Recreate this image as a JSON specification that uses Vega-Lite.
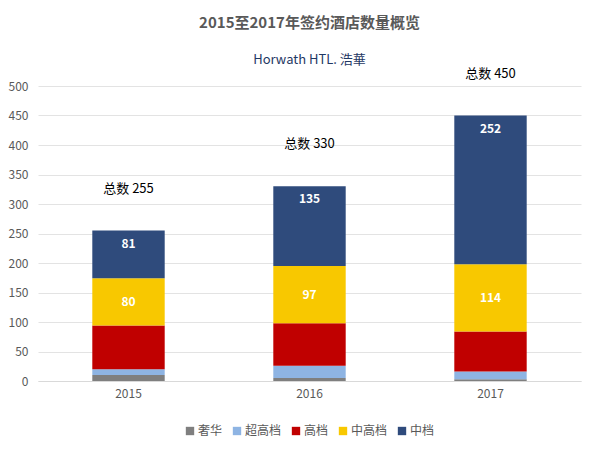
{
  "$schema": "https://vega.github.io/schema/vega-lite/v6.json",
  "width": 600,
  "height": 450,
  "autosize": {"type": "fit", "contains": "padding"},
  "padding": {"top": 28, "left": 8, "right": 19, "bottom": 13},
  "background": "white",
  "title": {
    "text": "2015至2017年签约酒店数量概览",
    "subtitle": "Horwath HTL. 浩華",
    "font": "Noto Sans CJK SC",
    "fontSize": 15,
    "fontWeight": "bold",
    "color": "#595959",
    "subtitleFont": "Noto Sans CJK SC",
    "subtitleFontSize": 13,
    "subtitleColor": "#1f3864",
    "subtitlePadding": 23,
    "offset": 1,
    "anchor": "middle"
  },
  "config": {
    "view": {"stroke": null},
    "font": "Noto Sans CJK SC",
    "axis": {"labelFont": "Noto Sans CJK SC", "labelColor": "#595959"},
    "axisY": {
      "labelFontSize": 12,
      "labelPadding": 10,
      "labelOverlap": false,
      "ticks": false,
      "domain": false,
      "gridColor": "#e3e3e3",
      "title": null
    },
    "legend": {
      "labelFont": "Noto Sans CJK SC",
      "labelColor": "#595959",
      "layout": {"bottom": {"anchor": "middle"}}
    }
  },
  "datasets": {
    "grades": [
      {"year": "2015", "grade": "奢华", "tier": 1, "count": 10},
      {"year": "2015", "grade": "超高档", "tier": 2, "count": 10},
      {"year": "2015", "grade": "高档", "tier": 3, "count": 74},
      {"year": "2015", "grade": "中高档", "tier": 4, "count": 80},
      {"year": "2015", "grade": "中档", "tier": 5, "count": 81},
      {"year": "2016", "grade": "奢华", "tier": 1, "count": 5},
      {"year": "2016", "grade": "超高档", "tier": 2, "count": 21},
      {"year": "2016", "grade": "高档", "tier": 3, "count": 72},
      {"year": "2016", "grade": "中高档", "tier": 4, "count": 97},
      {"year": "2016", "grade": "中档", "tier": 5, "count": 135},
      {"year": "2017", "grade": "奢华", "tier": 1, "count": 3},
      {"year": "2017", "grade": "超高档", "tier": 2, "count": 13},
      {"year": "2017", "grade": "高档", "tier": 3, "count": 68},
      {"year": "2017", "grade": "中高档", "tier": 4, "count": 114},
      {"year": "2017", "grade": "中档", "tier": 5, "count": 252}
    ],
    "totals": [
      {"year": "2015", "total": 255, "label": "总数 255"},
      {"year": "2016", "total": 330, "label": "总数 330"},
      {"year": "2017", "total": 450, "label": "总数 450"}
    ]
  },
  "data": {"name": "grades"},
  "encoding": {
    "x": {
      "field": "year",
      "type": "nominal",
      "title": null,
      "scale": {"paddingInner": 0.6, "paddingOuter": 0.3},
      "axis": {
        "labelAngle": 0,
        "labelFontSize": 12,
        "labelPadding": 7,
        "ticks": false,
        "domainColor": "#d9d9d9",
        "domainWidth": 1
      }
    }
  },
  "layer": [
    {
      "mark": {"type": "bar"},
      "encoding": {
        "y": {
          "field": "count",
          "type": "quantitative",
          "title": null,
          "scale": {"domain": [0, 500]},
          "axis": {"values": [0, 50, 100, 150, 200, 250, 300, 350, 400, 450, 500]}
        },
        "order": {"field": "tier", "type": "quantitative", "sort": "ascending"},
        "color": {
          "field": "grade",
          "type": "nominal",
          "scale": {
            "domain": ["奢华", "超高档", "高档", "中高档", "中档"],
            "range": ["#7f7f7f", "#8eb4e3", "#c00000", "#f8c800", "#2f4b7c"]
          },
          "legend": {
            "title": null,
            "orient": "bottom",
            "direction": "horizontal",
            "symbolType": "square",
            "symbolSize": 70,
            "symbolStrokeWidth": 0,
            "labelFontSize": 12,
            "columnPadding": 8,
            "labelOffset": 2,
            "offset": 26
          }
        }
      }
    },
    {
      "transform": [
        {"stack": "count", "groupby": ["year"], "sort": [{"field": "tier", "order": "ascending"}], "as": ["v0", "v1"]},
        {"filter": "datum.grade === '中高档'"},
        {"fold": ["v0", "v1"], "as": ["edge", "pos"]}
      ],
      "mark": {"type": "text", "color": "white", "fontSize": 12, "fontWeight": "bold", "baseline": "middle"},
      "encoding": {
        "y": {"aggregate": "mean", "field": "pos", "type": "quantitative", "title": null, "axis": {"values": [0, 50, 100, 150, 200, 250, 300, 350, 400, 450, 500]}},
        "text": {"aggregate": "max", "field": "count", "type": "quantitative"}
      }
    },
    {
      "transform": [
        {"joinaggregate": [{"op": "sum", "field": "count", "as": "total"}], "groupby": ["year"]},
        {"filter": "datum.grade === '中档'"}
      ],
      "mark": {"type": "text", "color": "white", "fontSize": 12, "fontWeight": "bold", "baseline": "middle", "dy": 13},
      "encoding": {
        "y": {"field": "total", "type": "quantitative", "title": null, "axis": {"values": [0, 50, 100, 150, 200, 250, 300, 350, 400, 450, 500]}},
        "text": {"field": "count", "type": "quantitative"}
      }
    },
    {
      "data": {"name": "totals"},
      "mark": {"type": "text", "color": "#000000", "fontSize": 13, "baseline": "middle", "dy": -42},
      "encoding": {
        "y": {"field": "total", "type": "quantitative", "title": null, "axis": {"values": [0, 50, 100, 150, 200, 250, 300, 350, 400, 450, 500]}},
        "text": {"field": "label", "type": "nominal"}
      }
    }
  ]
}
